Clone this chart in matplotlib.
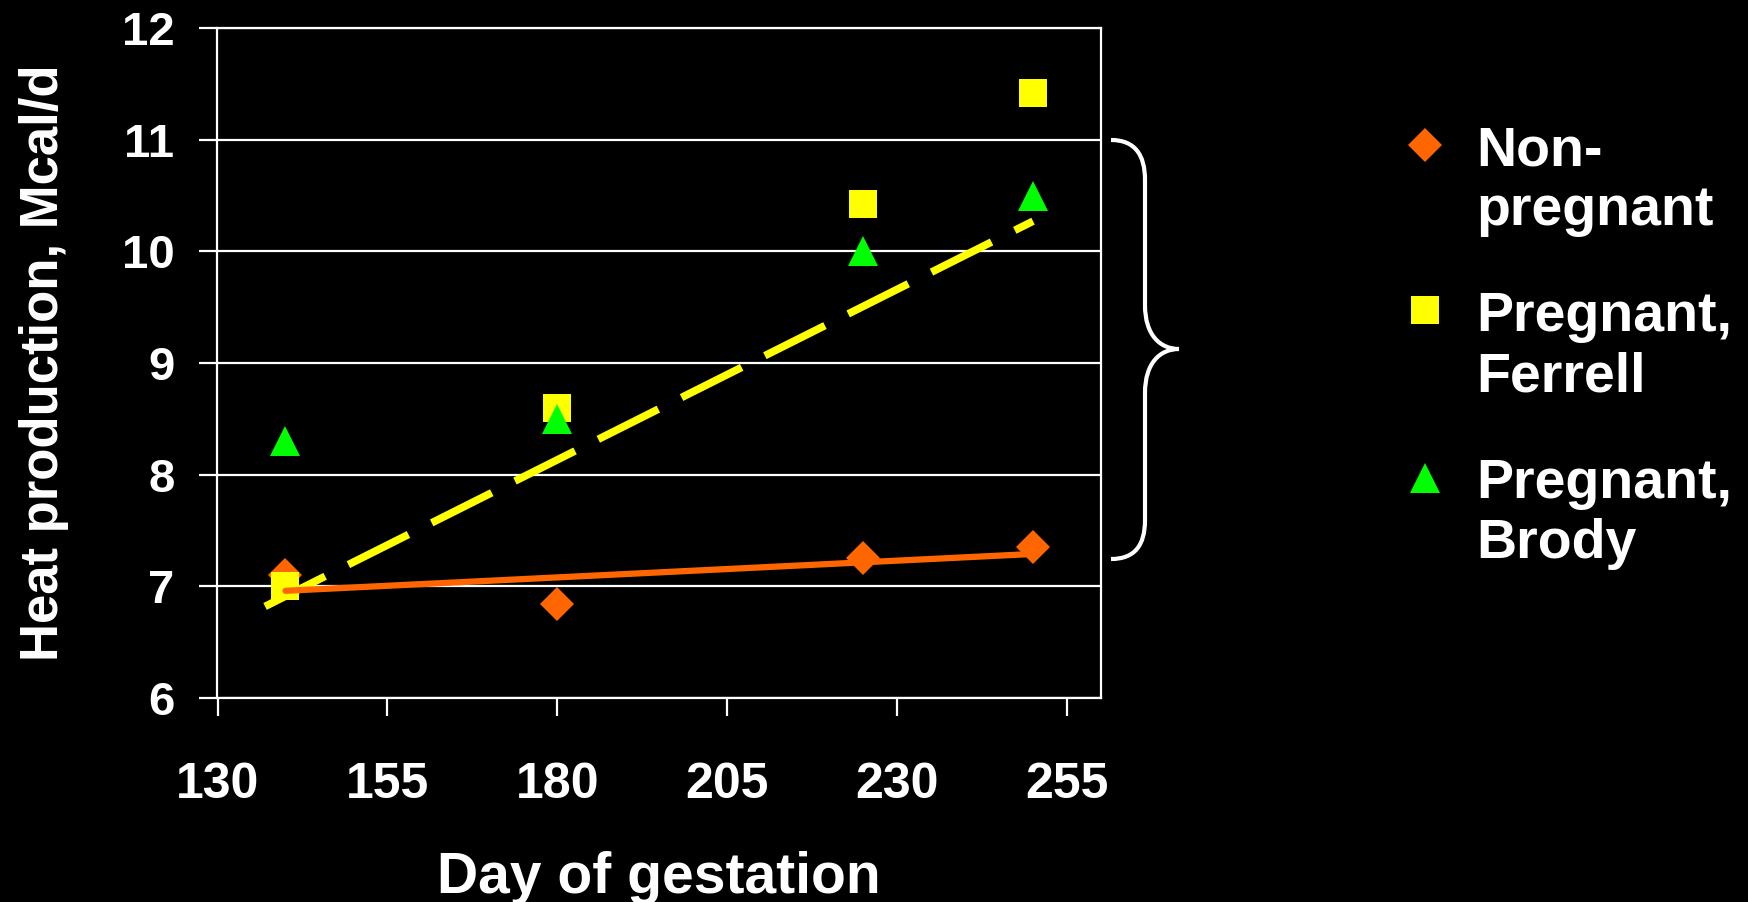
import matplotlib
matplotlib.use("Agg")
import matplotlib.pyplot as plt
from matplotlib.lines import Line2D
from matplotlib.path import Path
from matplotlib.patches import PathPatch

plt.rcParams['font.family'] = ['Liberation Sans', 'DejaVu Sans']
plt.rcParams['font.weight'] = 'bold'

# data
days = [140, 180, 225, 250]
non_pregnant = [7.1, 6.84, 7.25, 7.35]
preg_ferrell = [7.0, 8.6, 10.42, 11.42]
preg_brody = [8.3, 8.5, 10.0, 10.5]

# trend lines
nonpreg_line_days = [140, 250]
nonpreg_line = [6.96, 7.29]
preg_line_days = [137, 250]
preg_line = [6.82, 10.27]

x_ticks = [130, 155, 180, 205, 230, 255]
y_ticks = [6, 7, 8, 9, 10, 11, 12]

ORANGE = '#FF6600'
YELLOW = '#FFFF00'
GREEN = '#00FF00'
W, H = 1749, 902

fig = plt.figure(figsize=(W / 100, H / 100), dpi=100, facecolor='black')
ax = fig.add_axes([217.5 / W, 1 - 698 / H, (1101 - 217.5) / W, 670 / H])
ax.set_facecolor('black')

ax.plot(days, non_pregnant, linestyle='none', marker='D', markersize=17,
        color=ORANGE, markeredgewidth=0, zorder=3)
ax.plot(days, preg_ferrell, linestyle='none', marker='s', markersize=20,
        color=YELLOW, markeredgewidth=0, zorder=4)
ax.plot(days, preg_brody, linestyle='none', marker='^', markersize=22,
        color=GREEN, markeredgewidth=0, zorder=5)
ax.plot(preg_line_days, preg_line, color=YELLOW, lw=5.5, dashes=[8.8, 3.4],
        dash_capstyle='butt', zorder=6)
ax.plot(nonpreg_line_days, nonpreg_line, color=ORANGE, lw=4.5,
        solid_capstyle='round', zorder=7)

ax.set_xlim(130, 260)
ax.set_ylim(6, 12)
ax.set_xticks(x_ticks)
ax.set_yticks(y_ticks)
ax.grid(axis='y', color='white', lw=1.6)
ax.set_axisbelow(True)
for s in ax.spines.values():
    s.set_color('white')
    s.set_linewidth(1.6)
ax.tick_params(axis='both', colors='white', length=13, width=1.6, direction='out')
ax.tick_params(axis='x', labelsize=36, pad=33)
ax.tick_params(axis='y', labelsize=34, pad=18)

ax.set_xlabel('Day of gestation', color='white', fontsize=41, fontweight='bold')
ax.xaxis.set_label_coords(0.5, -0.229)
ax.set_ylabel('Heat production, Mcal/d', color='white', fontsize=38, fontweight='bold')
ax.yaxis.set_label_coords(-0.168, 0.5)

# curly brace beside the pregnant points
def px(x, y):
    return (x / W, 1 - y / H)

verts = [px(1111, 140), px(1135, 140), px(1145, 155), px(1145, 180),
         px(1145, 305),
         px(1145, 335), px(1160, 349), px(1179, 349),
         px(1160, 349), px(1145, 363), px(1145, 393),
         px(1145, 520),
         px(1145, 545), px(1135, 559), px(1111, 559)]
codes = [Path.MOVETO, Path.CURVE4, Path.CURVE4, Path.CURVE4,
         Path.LINETO,
         Path.CURVE4, Path.CURVE4, Path.CURVE4,
         Path.CURVE4, Path.CURVE4, Path.CURVE4,
         Path.LINETO,
         Path.CURVE4, Path.CURVE4, Path.CURVE4]
fig.add_artist(PathPatch(Path(verts, codes), facecolor='none', edgecolor='white',
                         lw=3, transform=fig.transFigure))

# legend (marker sits beside the first line of each label)
legend_items = [
    ('D', 17, ORANGE, 'Non-\npregnant', 145, 225),
    ('s', 20, YELLOW, 'Pregnant,\nFerrell', 310, 391),
    ('^', 22, GREEN, 'Pregnant,\nBrody', 478, 558),
]
for mk, ms, col, label, my, ty in legend_items:
    fig.add_artist(Line2D([1425 / W], [1 - my / H], transform=fig.transFigure,
                          marker=mk, markersize=ms, color=col, markeredgewidth=0,
                          linestyle='none'))
    fig.text(1476 / W, 1 - ty / H, label, color='white', fontsize=40,
             fontweight='bold', va='baseline', ha='left', linespacing=1.2)

fig.savefig('out.png', dpi=100, facecolor='black')
